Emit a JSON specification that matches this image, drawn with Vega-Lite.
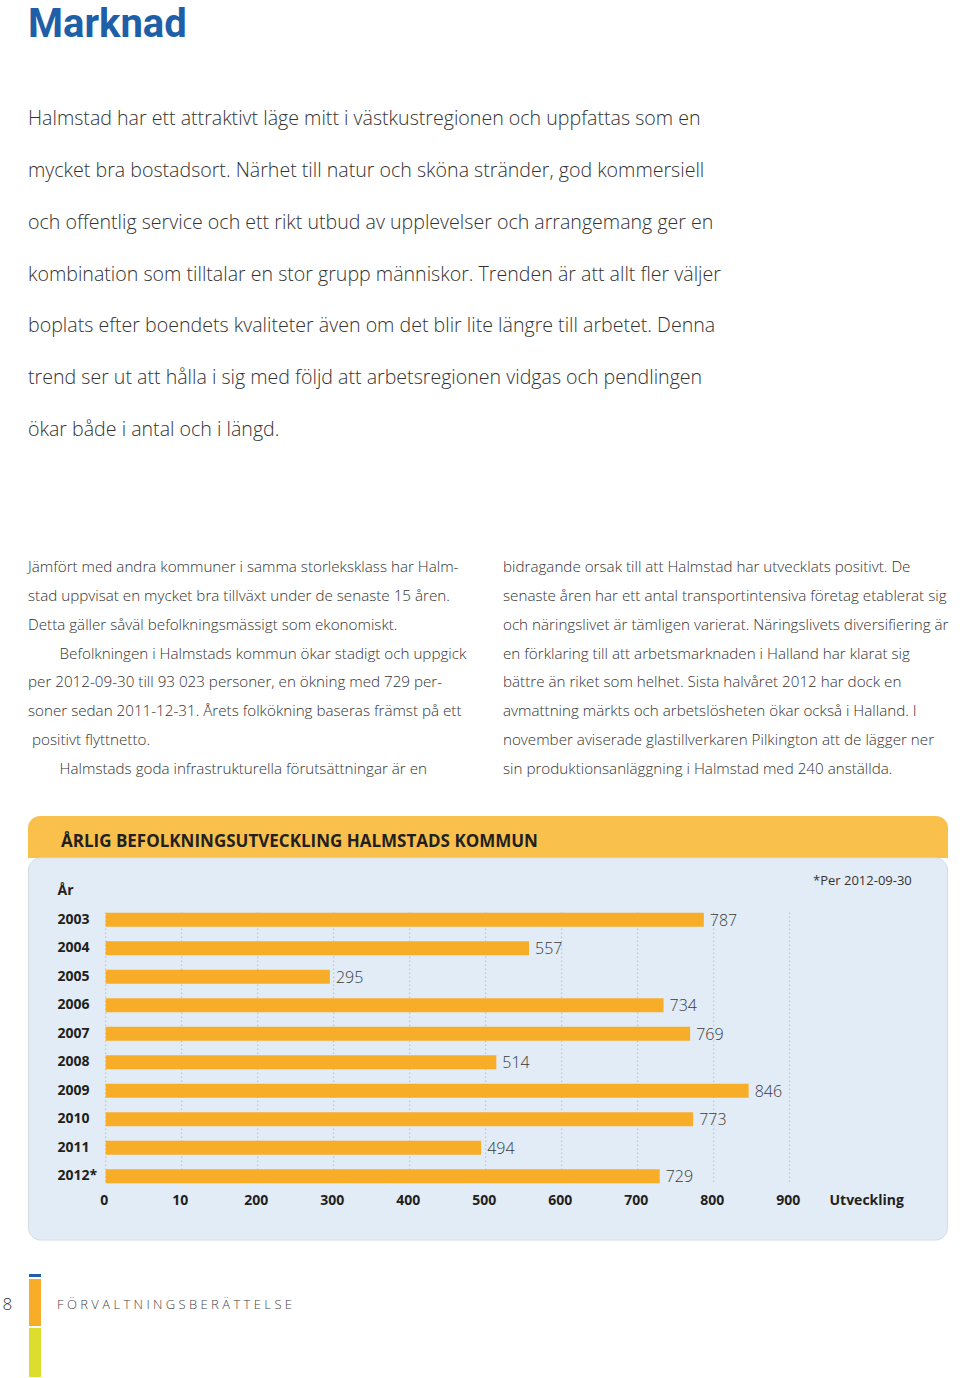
{
  "$schema": "https://vega.github.io/schema/vega-lite/v6.json",
  "padding": 0,
  "background": "white",
  "spacing": 0,
  "bounds": "flush",
  "config": {
    "view": {"stroke": null},
    "font": "Open Sans"
  },
  "datasets": {
    "heading": [{"col": "left", "text": "Marknad"}],
    "intro": [
      {"line": 1, "col": "left", "text": "Halmstad har ett attraktivt läge mitt i västkustregionen och uppfattas som en"},
      {"line": 2, "col": "left", "text": "mycket bra bostadsort. Närhet till natur och sköna stränder, god kommersiell"},
      {"line": 3, "col": "left", "text": "och offentlig service och ett rikt utbud av upplevelser och arrangemang ger en"},
      {"line": 4, "col": "left", "text": "kombination som tilltalar en stor grupp människor. Trenden är att allt fler väljer"},
      {"line": 5, "col": "left", "text": "boplats efter boendets kvaliteter även om det blir lite längre till arbetet. Denna"},
      {"line": 6, "col": "left", "text": "trend ser ut att hålla i sig med följd att arbetsregionen vidgas och pendlingen"},
      {"line": 7, "col": "left", "text": "ökar både i antal och i längd."}
    ],
    "columns": [
      {"line": 1, "col": "left", "text": "Jämfört med andra kommuner i samma storleksklass har Halm-"},
      {"line": 2, "col": "left", "text": "stad uppvisat en mycket bra tillväxt under de senaste 15 åren."},
      {"line": 3, "col": "left", "text": "Detta gäller såväl befolkningsmässigt som ekonomiskt."},
      {"line": 4, "col": "left", "text": "\u200b\u00a0\u00a0\u00a0\u00a0\u00a0\u00a0\u00a0\u00a0Befolkningen i Halmstads kommun ökar stadigt och uppgick"},
      {"line": 5, "col": "left", "text": "per 2012-09-30 till 93 023 personer, en ökning med 729 per-"},
      {"line": 6, "col": "left", "text": "soner sedan 2011-12-31. Årets folkökning baseras främst på ett"},
      {"line": 7, "col": "left", "text": "\u200b\u00a0positivt flyttnetto."},
      {"line": 8, "col": "left", "text": "\u200b\u00a0\u00a0\u00a0\u00a0\u00a0\u00a0\u00a0\u00a0Halmstads goda infrastrukturella förutsättningar är en"},
      {"line": 1, "col": "right", "text": "bidragande orsak till att Halmstad har utvecklats positivt. De"},
      {"line": 2, "col": "right", "text": "senaste åren har ett antal transportintensiva företag etablerat sig"},
      {"line": 3, "col": "right", "text": "och näringslivet är tämligen varierat. Näringslivets diversifiering är"},
      {"line": 4, "col": "right", "text": "en förklaring till att arbetsmarknaden i Halland har klarat sig"},
      {"line": 5, "col": "right", "text": "bättre än riket som helhet. Sista halvåret 2012 har dock en"},
      {"line": 6, "col": "right", "text": "avmattning märkts och arbetslösheten ökar också i Halland. I"},
      {"line": 7, "col": "right", "text": "november aviserade glastillverkaren Pilkington att de lägger ner"},
      {"line": 8, "col": "right", "text": "sin produktionsanläggning i Halmstad med 240 anställda."}
    ],
    "growth": [
      {"year": "2003", "value": 787},
      {"year": "2004", "value": 557},
      {"year": "2005", "value": 295},
      {"year": "2006", "value": 734},
      {"year": "2007", "value": 769},
      {"year": "2008", "value": 514},
      {"year": "2009", "value": 846},
      {"year": "2010", "value": 773},
      {"year": "2011", "value": 494},
      {"year": "2012*", "value": 729}
    ],
    "ticks": [
      {"tick": 0}, {"tick": 100}, {"tick": 200}, {"tick": 300}, {"tick": 400},
      {"tick": 500}, {"tick": 600}, {"tick": 700}, {"tick": 800}, {"tick": 900}
    ],
    "strip": [
      {"strip": "s", "part": "blue", "len": 5, "ord": 1},
      {"strip": "s", "part": "orange", "len": 49, "ord": 2},
      {"strip": "s", "part": "green", "len": 51, "ord": 3}
    ]
  },
  "vconcat": [
    {
      "width": 960,
      "height": 74,
      "data": {"name": "heading"},
      "mark": {"type": "text", "align": "left", "baseline": "alphabetic", "font": "Roboto", "fontWeight": "bold", "fontSize": 40, "color": "#1F5FA8"},
      "encoding": {
        "x": {"field": "col", "type": "nominal", "axis": null, "scale": {"type": "point", "domain": ["left", "right"], "range": [28, 503], "padding": 0}},
        "text": {"field": "text"}
      }
    },
    {
      "width": 960,
      "height": 456,
      "data": {"name": "intro"},
      "mark": {"type": "text", "align": "left", "baseline": "middle", "font": "Open Sans", "fontWeight": 300, "fontSize": 19.6, "color": "#333333"},
      "encoding": {
        "x": {"field": "col", "type": "nominal", "axis": null, "scale": {"type": "point", "domain": ["left", "right"], "range": [28, 503], "padding": 0}},
        "y": {"field": "line", "type": "ordinal", "axis": null, "scale": {"type": "band", "paddingInner": 0, "paddingOuter": 0.899, "align": 0.205}},
        "text": {"field": "text"}
      }
    },
    {
      "width": 960,
      "height": 286,
      "data": {"name": "columns"},
      "mark": {"type": "text", "align": "left", "baseline": "middle", "font": "Open Sans", "fontWeight": 300, "fontSize": 15.2, "color": "#333333"},
      "encoding": {
        "x": {"field": "col", "type": "nominal", "axis": null, "scale": {"type": "point", "domain": ["left", "right"], "range": [28, 503], "padding": 0}},
        "y": {"field": "line", "type": "ordinal", "axis": null, "scale": {"type": "band", "paddingInner": 0, "paddingOuter": 0.979, "align": 0.411}},
        "text": {"field": "text"}
      }
    },
    {
      "width": 960,
      "height": 42,
      "data": {"values": [{"panel": "header"}]},
      "mark": {"type": "rect", "color": "#F9C04C", "cornerRadiusTopLeft": 12, "cornerRadiusTopRight": 12},
      "encoding": {
        "x": {"field": "panel", "type": "nominal", "axis": null, "scale": {"type": "band", "range": [28, 948], "paddingInner": 0, "paddingOuter": 0}}
      },
      "title": {"text": "ÅRLIG BEFOLKNINGSUTVECKLING HALMSTADS KOMMUN", "orient": "top", "anchor": "start", "frame": "group", "offset": -43, "dx": 61, "baseline": "middle", "font": "Open Sans", "fontSize": 17, "fontWeight": "bold", "color": "#231F20"}
    },
    {
      "width": 960,
      "height": 382,
      "title": {"text": "*Per 2012-09-30", "orient": "top", "anchor": "start", "frame": "group", "offset": -36, "dx": 813, "baseline": "middle", "font": "Open Sans", "fontSize": 13, "fontWeight": "normal", "color": "#333333"},
      "resolve": {"scale": {"x": "independent"}, "axis": {"x": "independent"}},
      "layer": [
        {
          "data": {"values": [{"panel": "chart"}]},
          "mark": {"type": "rect", "color": "#E2ECF6", "cornerRadius": 12, "stroke": "#D6DCE3", "strokeWidth": 1},
          "encoding": {
            "x": {"field": "panel", "type": "nominal", "axis": null, "scale": {"type": "band", "range": [28.5, 947.5], "paddingInner": 0, "paddingOuter": 0}}
          }
        },
        {
          "layer": [
            {
              "data": {"name": "ticks"},
              "mark": {"type": "rule", "color": "#9AA4AE", "strokeWidth": 1, "strokeDash": [1, 3]},
              "encoding": {
                "x": {"field": "tick", "type": "quantitative"},
                "y": {"datum": "2003", "type": "ordinal", "bandPosition": 0},
                "y2": {"datum": "2012*", "bandPosition": 1}
              }
            },
            {
              "data": {"name": "growth"},
              "mark": {"type": "bar", "color": "#F8AD29"},
              "encoding": {
                "x": {
                  "field": "value", "type": "quantitative",
                  "scale": {"domain": [-139.1, 1124.1], "nice": false, "zero": false},
                  "axis": {
                    "zindex": 2,
                    "values": [0, 100, 200, 300, 400, 500, 600, 700, 800, 900],
                    "labelExpr": "datum.value == 100 ? '10' : datum.label",
                    "orient": "bottom", "offset": -40, "grid": false, "ticks": false, "tickSize": 0, "domain": false,
                    "labelPadding": 0, "labelBaseline": "middle", "labelFlush": false, "labelOverlap": false, "labelOffset": -2,
                    "labelFont": "Open Sans", "labelFontSize": 14, "labelFontWeight": "bold", "labelColor": "#231F20",
                    "title": "Utveckling", "titleX": 829, "titleY": 0, "titleAlign": "left", "titleBaseline": "middle",
                    "titleFont": "Open Sans", "titleFontSize": 14, "titleFontWeight": "bold", "titleColor": "#231F20"
                  }
                },
                "y": {
                  "field": "year", "type": "ordinal",
                  "scale": {"type": "band", "range": [47.45, 332.55], "paddingInner": 0.509, "paddingOuter": 0.2545, "align": 0.5, "round": false},
                  "axis": {
                    "zindex": 2,
                    "orient": "left", "offset": -57, "labelAlign": "left", "labelPadding": 0, "ticks": false, "tickSize": 0, "domain": false, "grid": false,
                    "labelBaseline": "middle", "labelFont": "Open Sans", "labelFontSize": 14, "labelFontWeight": "bold", "labelColor": "#231F20",
                    "title": "År", "titleAngle": 0, "titleX": 0, "titleY": 32, "titleAlign": "left", "titleBaseline": "middle",
                    "titleFont": "Open Sans", "titleFontSize": 14, "titleFontWeight": "bold", "titleColor": "#231F20"
                  }
                }
              }
            },
            {
              "data": {"name": "growth"},
              "mark": {"type": "text", "align": "left", "baseline": "middle", "dx": 6, "dy": 1, "font": "Open Sans", "fontWeight": 300, "fontSize": 16, "color": "#3A3A3A"},
              "encoding": {
                "x": {"field": "value", "type": "quantitative"},
                "y": {"field": "year", "type": "ordinal"},
                "text": {"field": "value", "type": "quantitative"}
              }
            }
          ]
        }
      ]
    },
    {
      "width": 960,
      "height": 138,
      "resolve": {"scale": {"x": "independent"}, "axis": {"x": "independent"}},
      "layer": [
        {
          "data": {"name": "strip"},
          "mark": {"type": "bar", "stroke": "white", "strokeWidth": 2},
          "encoding": {
            "x": {"field": "strip", "type": "nominal", "axis": null, "scale": {"type": "band", "range": [28, 42], "paddingInner": 0, "paddingOuter": 0}},
            "y": {"field": "len", "type": "quantitative", "stack": "zero", "axis": null, "scale": {"domain": [-33, 105], "reverse": true, "nice": false, "zero": false}},
            "order": {"field": "ord", "type": "quantitative"},
            "color": {"field": "part", "type": "nominal", "legend": null, "scale": {"domain": ["blue", "orange", "green"], "range": ["#1F5FA8", "#F8AD29", "#DCDD2C"]}}
          }
        },
        {
          "layer": [
            {
              "data": {"values": [{"slot": "num", "text": "8"}]},
              "mark": {"type": "text", "align": "left", "baseline": "middle", "dy": -4, "font": "Open Sans", "fontWeight": 300, "fontSize": 17, "color": "#333333"},
              "encoding": {
                "x": {"field": "slot", "type": "nominal", "axis": null, "scale": {"type": "point", "domain": ["num", "label"], "range": [2.5, 57], "padding": 0}},
                "text": {"field": "text"}
              }
            },
            {
              "data": {"values": [{"slot": "label", "text": "F Ö R V A L T N I N G S B E R Ä T T E L S E"}]},
              "mark": {"type": "text", "align": "left", "baseline": "middle", "dy": -4, "font": "Open Sans", "fontWeight": 300, "fontSize": 13, "color": "#444444"},
              "encoding": {
                "x": {"field": "slot", "type": "nominal", "axis": null},
                "text": {"field": "text"}
              }
            }
          ]
        }
      ]
    }
  ]
}
